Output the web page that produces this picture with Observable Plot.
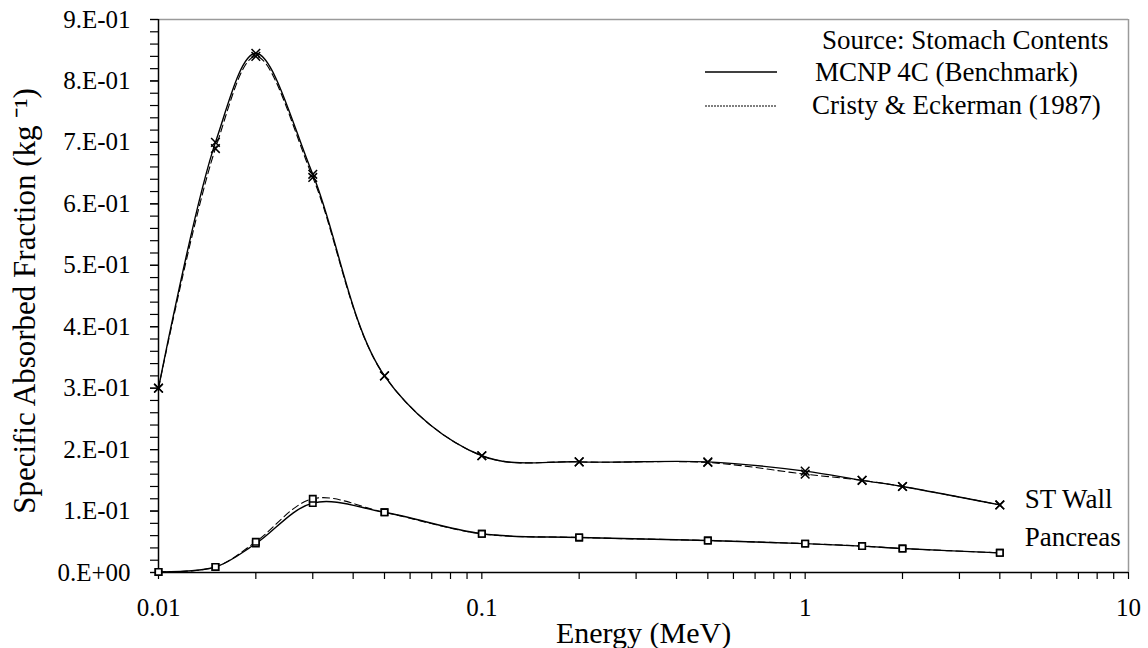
<!DOCTYPE html>
<html>
<head>
<meta charset="utf-8">
<script src="https://cdn.jsdelivr.net/npm/d3@7"></script>
<script src="https://cdn.jsdelivr.net/npm/@observablehq/plot@0.6"></script>
<style>
  html, body { margin: 0; padding: 0; background: white; }
  #wrap { position: relative; width: 1148px; height: 648px; font-family: 'Liberation Serif', 'Times New Roman', serif; }
  #wrap svg text { font-family: 'Liberation Serif', 'Times New Roman', serif !important; }
  #legend { position: absolute; left: 0; top: 0; pointer-events: none; }
</style>
</head>
<body>
<div id="wrap"></div>
<script>
// ---- Data ----
const energies   = [0.01, 0.015, 0.02, 0.03, 0.05, 0.1, 0.2, 0.5, 1, 1.5, 2, 4];
const stWallMCNP = [0.300, 0.700, 0.845, 0.648, 0.320, 0.190, 0.180, 0.180, 0.165, 0.150, 0.140, 0.110];
const stWallCE   = [0.300, 0.690, 0.840, 0.643, 0.320, 0.190, 0.180, 0.179, 0.160, 0.150, 0.140, 0.110];
const pancMCNP   = [0.001, 0.009, 0.047, 0.113, 0.098, 0.063, 0.057, 0.052, 0.047, 0.043, 0.039, 0.032];
const pancCE     = [0.001, 0.009, 0.050, 0.120, 0.098, 0.063, 0.057, 0.052, 0.047, 0.043, 0.039, 0.032];

const organs = ["ST Wall", "Pancreas"];
const sources = ["MCNP 4C (Benchmark)", "Cristy & Eckerman (1987)"];

const yTicks = [0, 0.1, 0.2, 0.3, 0.4, 0.5, 0.6, 0.7, 0.8, 0.9];
const yTickLabels = ["0.E+00","1.E-01","2.E-01","3.E-01","4.E-01","5.E-01","6.E-01","7.E-01","8.E-01","9.E-01"];
const xTicks = [0.01, 0.1, 1, 10];
const xTickLabels = ["0.01", "0.1", "1", "10"];

const xLabel = "Energy (MeV)";
const yLabel = "Specific Absorbed Fraction (kg \u207B\u00B9)";
const legendTitle = "Source: Stomach Contents";

// ---- Build table ----
const series = [
  {organ: organs[0], source: sources[0], values: stWallMCNP},
  {organ: organs[0], source: sources[1], values: stWallCE},
  {organ: organs[1], source: sources[0], values: pancMCNP},
  {organ: organs[1], source: sources[1], values: pancCE}
];
const rows = series.flatMap(s => energies.map((e, i) => ({
  energy: e, value: s.values[i], organ: s.organ, source: s.source, key: s.organ + "|" + s.source
})));
const mcnpRows = rows.filter(d => d.source === sources[0]);
const ceRows = rows.filter(d => d.source === sources[1]);
const lastPoint = o => [rows.filter(d => d.organ === o && d.source === sources[0]).at(-1)];

const yMinor = d3.range(0, 0.9001, 0.02).map(v => +v.toFixed(2));
const xMinor = [0.01, 0.1, 1].flatMap(dec => d3.range(2, 10).map(m => +(dec * m).toPrecision(3)));

const fmtY = d => yTickLabels[yTicks.findIndex(t => Math.abs(t - d) < 1e-9)];
const fmtX = d => xTickLabels[xTicks.findIndex(t => Math.abs(t - d) < 1e-12)];

const serif = "'Liberation Serif', 'Times New Roman', serif";

const chart = Plot.plot({
  width: 1148,
  height: 648,
  marginLeft: 158,
  marginRight: 20,
  marginTop: 19,
  marginBottom: 76,
  x: {type: "log", domain: [0.01, 10]},
  y: {domain: [0, 0.9]},
  style: {fontFamily: serif, fontSize: "25px", color: "black", background: "white"},
  marks: [
    Plot.ruleY([0.9], {stroke: "#9a9a9a", strokeWidth: 1.5}),
    Plot.ruleX([10], {stroke: "#9a9a9a", strokeWidth: 1.5}),
    Plot.axisY({ticks: yMinor, tickSize: 8, tickFormat: () => "", label: null, strokeWidth: 1.2}),
    Plot.axisY({ticks: yTicks, tickSize: 8, tickPadding: 20, tickFormat: fmtY, label: null, fontSize: 25, strokeWidth: 1.2}),
    Plot.axisX({ticks: xMinor, tickSize: 7, tickFormat: () => "", label: null, strokeWidth: 1.2}),
    Plot.axisX({ticks: xTicks, tickSize: 7, tickPadding: 19, tickFormat: fmtX, label: null, fontSize: 25, strokeWidth: 1.2}),
    Plot.ruleX([0.01], {stroke: "black", strokeWidth: 1.5}),
    Plot.ruleY([0], {stroke: "black", strokeWidth: 1.5}),
    Plot.line(ceRows, {x: "energy", y: "value", z: "key", curve: "catmull-rom", stroke: "black", strokeWidth: 1.1, strokeDasharray: "7,4"}),
    Plot.line(mcnpRows, {x: "energy", y: "value", z: "key", curve: "catmull-rom", stroke: "black", strokeWidth: 1.4}),
    Plot.dot(rows.filter(d => d.organ === organs[0]), {x: "energy", y: "value", symbol: "times", r: 4, stroke: "black", strokeWidth: 1.5}),
    Plot.dot(rows.filter(d => d.organ === organs[1]), {x: "energy", y: "value", symbol: "square", r: 3.6, stroke: "black", fill: "white", strokeWidth: 1.6}),
    Plot.text(lastPoint(organs[0]), {x: "energy", y: "value", text: "organ", textAnchor: "start", dx: 25, dy: -6, fontSize: 27}),
    Plot.text(lastPoint(organs[1]), {x: "energy", y: "value", text: "organ", textAnchor: "start", dx: 25, dy: -15, fontSize: 27}),
    Plot.text([xLabel], {frameAnchor: "bottom", text: d => d, textAnchor: "middle", lineAnchor: "middle", dy: 61, fontSize: 30}),
    Plot.text([yLabel], {frameAnchor: "left", text: d => d, textAnchor: "middle", lineAnchor: "middle", rotate: -90, dx: -133, dy: 5, fontSize: 31})
  ]
});

const wrap = document.getElementById("wrap");
wrap.appendChild(chart);

// ---- Legend overlay (top right) ----
const ns = "http://www.w3.org/2000/svg";
const leg = document.createElementNS(ns, "svg");
leg.setAttribute("id", "legend");
leg.setAttribute("width", 1148);
leg.setAttribute("height", 648);
const legendItems = [
  {label: legendTitle, dash: null, line: false, ty: 40, tx: 822},
  {label: sources[0], dash: null, line: true, ty: 72, tx: 815, ly: 72},
  {label: sources[1], dash: "2,1", line: true, ty: 105, tx: 812, ly: 106}
];
for (const it of legendItems) {
  if (it.line) {
    const l = document.createElementNS(ns, "line");
    l.setAttribute("x1", 705); l.setAttribute("x2", 777);
    l.setAttribute("y1", it.ly); l.setAttribute("y2", it.ly);
    l.setAttribute("stroke", "black");
    l.setAttribute("stroke-width", it.dash ? 1.2 : 1.3);
    if (it.dash) l.setAttribute("stroke-dasharray", it.dash);
    leg.appendChild(l);
  }
  const t = document.createElementNS(ns, "text");
  t.setAttribute("x", it.tx); t.setAttribute("y", it.ty);
  t.setAttribute("dy", "0.35em");
  t.setAttribute("font-size", 27);
  t.setAttribute("fill", "black");
  t.textContent = it.label;
  leg.appendChild(t);
}
wrap.appendChild(leg);
</script>
</body>
</html>
